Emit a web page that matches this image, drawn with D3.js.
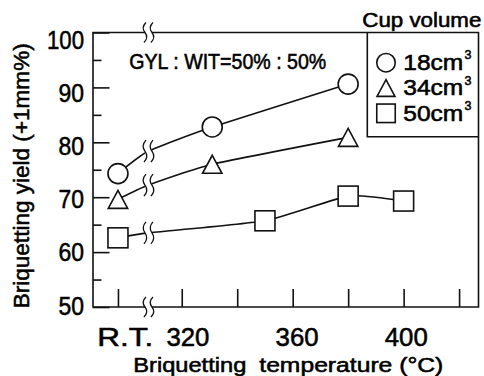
<!DOCTYPE html>
<html>
<head>
<meta charset="utf-8">
<script src="https://cdn.jsdelivr.net/npm/d3@7"></script>
<style>
  html, body { margin: 0; padding: 0; background: #fff; }
  svg { display: block; font-family: "Liberation Sans", Arial, sans-serif; }
  svg text { stroke: #000; stroke-width: 0.55px; }
</style>
</head>
<body>
<div id="chart"></div>
<script>
// ---- data -------------------------------------------------------------
const cupVolumes = ["18", "34", "50"];              // cm³
const markerShapes = ["circle", "triangle", "square"];

// the room-temperature column sits left of the axis break
const RT_SLOT = 297;
const BREAK_AT = 308;

const rtYield    = [74.3, 69.6, 62.6];              // yield at R.T.
const breakYield = [78.4, 72.2, 63.5];              // where each curve crosses the break

const temps18 = [331, 380];
const yield18 = [82.8, 90.6];
const temps34 = [331, 380];
const yield34 = [76.0, 80.9];
const temps50 = [350, 380, 400];
const yield50 = [65.7, 70.2, 69.3];

const xTickValues  = [320, 340, 360, 380, 400, 420];
const xLabelValues = [320, 360, 400];
const yMajorTicks  = [50, 60, 70, 80, 90, 100];
const yMinorTicks  = [55, 65, 75, 85, 95];

// ---- layout -----------------------------------------------------------
const width = 484, height = 376;
const margin = { top: 32.5, right: 5.5, bottom: 69, left: 93 };
const plotL = margin.left, plotR = width - margin.right;
const plotT = margin.top,  plotB = height - margin.bottom;

const x = d3.scaleLinear().domain([288, 427]).range([plotL, plotR]);
const y = d3.scaleLinear().domain([50, 100]).range([plotB, plotT]);
// tick labels drift slightly from their ticks
const xLab = d3.scaleLinear().domain(x.domain()).range([100.6, 479.9]);
const yLab = d3.scaleLinear().domain(y.domain()).range([305, 39.3]);

const series = [
  { temps: temps18, yields: yield18 },
  { temps: temps34, yields: yield34 },
  { temps: temps50, yields: yield50 }
].map((s, i) => ({
  shape: markerShapes[i],
  label: cupVolumes[i],
  points: [[RT_SLOT, rtYield[i]]].concat(s.temps.map((t, j) => [t, s.yields[j]])),
  curve: [[RT_SLOT, rtYield[i]], [BREAK_AT, breakYield[i]]].concat(s.temps.map((t, j) => [t, s.yields[j]]))
}));

const svg = d3.select("#chart").append("svg")
  .attr("width", width).attr("height", height);

const INK = "#111";
const SW = 1.6;

// ---- helpers ----------------------------------------------------------
function breakMark(g, cx, cy, half) {
  // a pair of wavy strokes marking the scale break
  [-3.5, 3.5].forEach(off => {
    const bx = cx + off;
    g.append("path")
      .attr("d", `M${bx + 1},${cy - half} Q${bx - 4},${cy - half / 2} ${bx},${cy} T${bx - 1},${cy + half}`)
      .attr("fill", "none").attr("stroke", INK).attr("stroke-width", 1.3);
  });
}

function drawMarker(g, shape, cx, cy, size) {
  const h = size / 2;
  let el;
  if (shape === "circle") {
    el = g.append("circle").attr("cx", cx).attr("cy", cy).attr("r", h);
  } else if (shape === "triangle") {
    const hw = h * 0.97, hh = h * 0.9;
    el = g.append("path").attr("d", `M${cx},${cy - hh} L${cx + hw},${cy + hh} L${cx - hw},${cy + hh} Z`);
  } else {
    el = g.append("rect").attr("x", cx - h).attr("y", cy - h).attr("width", size).attr("height", size);
  }
  el.attr("fill", "#fff").attr("stroke", INK).attr("stroke-width", SW);
}

// ---- ticks (pointing inward) ------------------------------------------
const axG = svg.append("g");
const yMajorAxis = d3.axisLeft(y).tickValues(yMajorTicks).tickSize(-16.5).tickFormat("");
const yMinorAxis = d3.axisLeft(y).tickValues(yMinorTicks).tickSize(-8.5).tickFormat("");
const xAxis = d3.axisBottom(x).tickValues([RT_SLOT].concat(xTickValues)).tickSize(-18).tickFormat("");

[[yMajorAxis, `translate(${plotL},0)`], [yMinorAxis, `translate(${plotL},0)`], [xAxis, `translate(0,${plotB})`]]
  .forEach(([ax, tr]) => {
    const g = axG.append("g").attr("transform", tr).call(ax);
    g.select(".domain").remove();
    g.selectAll(".tick line").attr("stroke", INK).attr("stroke-width", SW);
  });

// ---- frame with breaks at top and bottom ------------------------------
const bx = x(BREAK_AT);
const frame = svg.append("g").attr("stroke", INK).attr("stroke-width", SW).attr("fill", "none");
frame.append("path").attr("d",
  `M${bx - 3.5},${plotT} H${plotL} V${plotB} H${bx - 3.5}` +
  `M${bx + 3.5},${plotT} H${plotR} V${plotB} H${bx + 3.5}`);
breakMark(svg, bx, plotT, 10);
breakMark(svg, bx, plotB, 10);

// ---- curves -----------------------------------------------------------
const line = d3.line().x(d => x(d[0])).y(d => y(d[1])).curve(d3.curveCardinal.tension(0.5));
const lineG = svg.append("g");
series.forEach(s => {
  lineG.append("path").attr("d", line(s.curve))
    .attr("fill", "none").attr("stroke", INK).attr("stroke-width", SW);
  const by = y(s.curve[1][1]);
  lineG.append("rect").attr("x", bx - 3.5).attr("y", by - 6).attr("width", 7).attr("height", 12)
    .attr("fill", "#fff");
  breakMark(lineG, bx, by, 11);
});

// ---- markers ----------------------------------------------------------
const markG = svg.append("g");
series.forEach(s => s.points.forEach(p => drawMarker(markG, s.shape, x(p[0]), y(p[1]), 20)));

// ---- tick labels ------------------------------------------------------
const labG = svg.append("g").attr("fill", "#000");
yMajorTicks.forEach(v => {
  const t = String(v);
  labG.append("text").attr("x", 84).attr("y", yLab(v) + 9.5)
    .attr("text-anchor", "end").attr("font-size", 26.5)
    .attr("textLength", t.length === 3 ? 37 : 25.5).attr("lengthAdjust", "spacingAndGlyphs")
    .text(t);
});
labG.append("text").attr("x", xLab(RT_SLOT)).attr("y", 345.7)
  .attr("text-anchor", "middle").attr("font-size", 26.5)
  .attr("textLength", 56).attr("lengthAdjust", "spacingAndGlyphs").text("R.T.");
xLabelValues.forEach(v => {
  labG.append("text").attr("x", xLab(v)).attr("y", 345.7)
    .attr("text-anchor", "middle").attr("font-size", 26.5)
    .attr("textLength", 43).attr("lengthAdjust", "spacingAndGlyphs").text(v);
});

// ---- axis titles ------------------------------------------------------
labG.append("text").attr("x", 133.3).attr("y", 371.5).attr("font-size", 20.5)
  .attr("textLength", 113).attr("lengthAdjust", "spacingAndGlyphs").text("Briquetting");
labG.append("text").attr("x", 259.3).attr("y", 371.5).attr("font-size", 20.5)
  .attr("textLength", 184).attr("lengthAdjust", "spacingAndGlyphs").text("temperature (°C)");
labG.append("text").attr("transform", "translate(28.5,175.8) rotate(-90)")
  .attr("text-anchor", "middle").attr("font-size", 22.5)
  .attr("textLength", 265).attr("lengthAdjust", "spacingAndGlyphs")
  .text("Briquetting yield (+1mm%)");

// ---- annotation -------------------------------------------------------
labG.append("text").attr("x", 129.3).attr("y", 68.5).attr("font-size", 21.5)
  .attr("textLength", 197).attr("lengthAdjust", "spacingAndGlyphs")
  .text("GYL : WIT=50% : 50%");

// ---- legend -----------------------------------------------------------
const legX = 367.3, legB = 136.7;
svg.append("path").attr("d", `M${legX},${plotT} V${legB} H${plotR}`)
  .attr("fill", "none").attr("stroke", INK).attr("stroke-width", SW);
labG.append("text").attr("x", 362.3).attr("y", 26.7).attr("font-size", 19.5)
  .attr("textLength", 119).attr("lengthAdjust", "spacingAndGlyphs").text("Cup volume");

const rowY = d3.scalePoint().domain(cupVolumes).range([62.7, 113.3]);
series.forEach(s => {
  const cy = rowY(s.label);
  drawMarker(markG, s.shape, 386, cy, 18.5);
  labG.append("text").attr("x", 403.3).attr("y", cy + 7.2).attr("font-size", 21.5)
    .attr("textLength", 60).attr("lengthAdjust", "spacingAndGlyphs").text(s.label + "cm");
  labG.append("text").attr("x", 464.5).attr("y", cy - 3.5).attr("font-size", 12.5).text("3");
});
</script>
</body>
</html>
